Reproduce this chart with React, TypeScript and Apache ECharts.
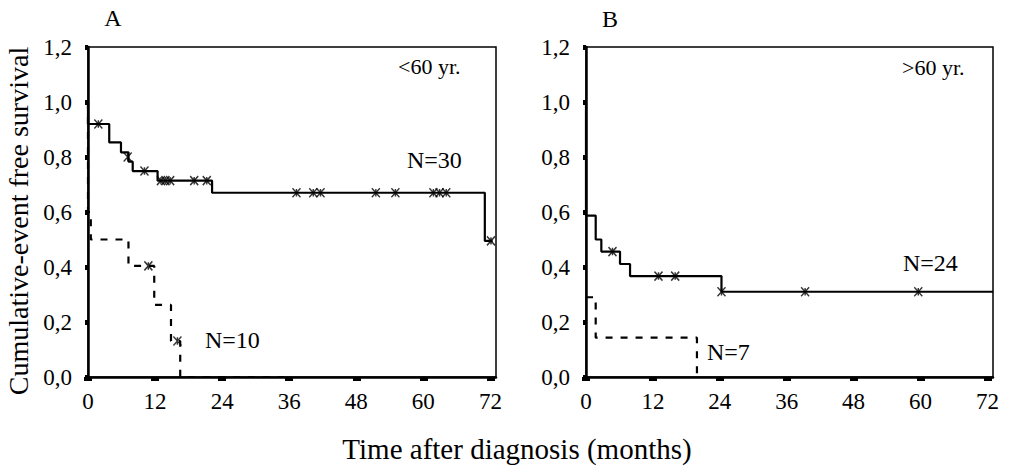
import React, { useEffect, useRef } from "react";
import * as echarts from "echarts";

// Panel A (<60 yr.)
const aSolidSteps: [number, number][] = [
  [0, 1.0], [0, 0.92], [3.8, 0.853], [5.9, 0.817], [7.25, 0.783], [8.0, 0.749],
  [12.45, 0.714], [22.2, 0.67], [71.0, 0.495], [72.4, 0.495],
];
const aSolidCensor: [number, number][] = [
  [1.85, 0.92], [7.1, 0.80], [10.1, 0.749], [13.05, 0.714], [13.85, 0.714], [14.7, 0.714],
  [19.0, 0.714], [21.25, 0.714], [37.3, 0.67], [40.3, 0.67], [41.6, 0.67], [51.5, 0.67],
  [55.0, 0.67], [61.8, 0.67], [62.9, 0.67], [64.1, 0.67], [72.1, 0.495],
];
const aDashSteps: [number, number][] = [
  [0, 1.0], [0, 0.6], [0.5, 0.5], [7.24, 0.404], [11.85, 0.262], [14.85, 0.131], [16.5, 0], [35, 0],
];
const aDashCensor: [number, number][] = [[10.8, 0.404], [16.0, 0.131]];

// Panel B (>60 yr.)
const bSolidSteps: [number, number][] = [
  [0, 1.0], [0, 0.587], [1.74, 0.5], [2.75, 0.456], [6.1, 0.411], [7.9, 0.367],
  [24.3, 0.31], [73, 0.31],
];
const bSolidCensor: [number, number][] = [
  [4.75, 0.456], [13.0, 0.367], [16.0, 0.367], [24.3, 0.31], [39.3, 0.31], [59.6, 0.31],
];
const bDashSteps: [number, number][] = [
  [0, 0.29], [1.74, 0.143], [19.9, 0], [19.9, 0],
];

const xTicks = [0, 12, 24, 36, 48, 60, 72];
const yTickValues = [0, 0.2, 0.4, 0.6, 0.8, 1.0, 1.2];
const yTickLabels = ["0,0", "0,2", "0,4", "0,6", "0,8", "1,0", "1,2"];

const FONT = "'Liberation Serif', 'Times New Roman', 'DejaVu Serif', serif";
const CENSOR = "path://M0,0L10,12M10,0L0,12M5,1L5,11";

export default function App() {
  const ref = useRef<HTMLDivElement>(null);
  useEffect(() => {
    if (!ref.current) return;
    const chart = echarts.init(ref.current, null, { renderer: "svg" });
    const xAxis = (gridIndex: number) => ({
      type: "value",
      gridIndex,
      min: 0,
      max: 73,
      interval: 12,
      axisLine: { show: true, lineStyle: { color: "#000", width: 2.5 } },
      axisTick: { show: true, length: 4, inside: false, customValues: xTicks, lineStyle: { color: "#000", width: 8 } },
      axisLabel: {
        customValues: xTicks,
        margin: 13,
        color: "#000",
        fontFamily: FONT,
        fontSize: 23,
        formatter: (v: number) => String(v),
      },
      splitLine: { show: false },
    });
    const yAxis = (gridIndex: number) => ({
      type: "value",
      gridIndex,
      min: 0,
      max: 1.2,
      interval: 0.2,
      axisLine: { show: true, lineStyle: { color: "#000", width: 2.5 } },
      axisTick: { show: true, length: 3, lineStyle: { color: "#000", width: 5 } },
      axisLabel: {
        margin: 16,
        color: "#000",
        fontFamily: FONT,
        fontSize: 23,
        formatter: (v: number) => {
          const i = yTickValues.findIndex((t) => Math.abs(t - v) < 1e-6);
          return i >= 0 ? yTickLabels[i] : "";
        },
      },
      splitLine: { show: false },
    });
    const solid = { color: "#000", width: 2.2, type: "solid" };
    const dashed = { color: "#000", width: 2.2, type: [7, 8] };
    const censorStyle = { color: "none", borderColor: "#000", borderWidth: 1.5 };
    const stepSeries = (data: [number, number][], idx: number, ls: any) => ({
      type: "line",
      xAxisIndex: idx,
      yAxisIndex: idx,
      data,
      step: "end",
      showSymbol: false,
      symbol: "none",
      lineStyle: ls,
      silent: true,
      z: 3,
    });
    const censorSeries = (data: [number, number][], idx: number) => ({
      type: "scatter",
      xAxisIndex: idx,
      yAxisIndex: idx,
      data,
      symbol: CENSOR,
      symbolSize: [8, 9],
      itemStyle: censorStyle,
      silent: true,
      z: 4,
    });
    const txt = (text: string, x: number, y: number, size: number, align = "left", extra: any = {}) => ({
      type: "text",
      x,
      y,
      ...extra,
      style: {
        text,
        fill: "#000",
        fontFamily: FONT,
        fontSize: size,
        textAlign: align,
        textVerticalAlign: "middle",
      },
    });
    chart.setOption({
      animation: false,
      backgroundColor: "#fff",
      grid: [
        { left: 88, top: 47, width: 408, height: 330, show: true, borderColor: "#000", borderWidth: 1.5, backgroundColor: "transparent" },
        { left: 586, top: 47, width: 407, height: 330, show: true, borderColor: "#000", borderWidth: 1.5, backgroundColor: "transparent" },
      ],
      xAxis: [xAxis(0), xAxis(1)],
      yAxis: [yAxis(0), yAxis(1)],
      series: [
        stepSeries(aSolidSteps, 0, solid),
        censorSeries(aSolidCensor, 0),
        stepSeries(aDashSteps, 0, dashed),
        censorSeries(aDashCensor, 0),
        stepSeries(bSolidSteps, 1, solid),
        censorSeries(bSolidCensor, 1),
        stepSeries(bDashSteps, 1, dashed),
      ],
      graphic: [
        txt("A", 113, 18, 24, "center"),
        txt("B", 610, 19, 24, "center"),
        txt("<60 yr.", 398, 66, 22),
        txt(">60 yr.", 902, 67, 22),
        txt("N=30", 407, 160, 24),
        txt("N=10", 205, 340, 24),
        txt("N=24", 903, 263, 24),
        txt("N=7", 707, 352, 24),
        txt("Time after diagnosis (months)", 517, 449, 29, "center"),
        txt("Cumulative-event free survival", 18, 221, 28, "center", { rotation: Math.PI / 2 }),
      ],
    });
    return () => chart.dispose();
  }, []);
  return <div ref={ref} style={{ position: "fixed", left: 0, top: 0, width: 1010, height: 469 }} />;
}
